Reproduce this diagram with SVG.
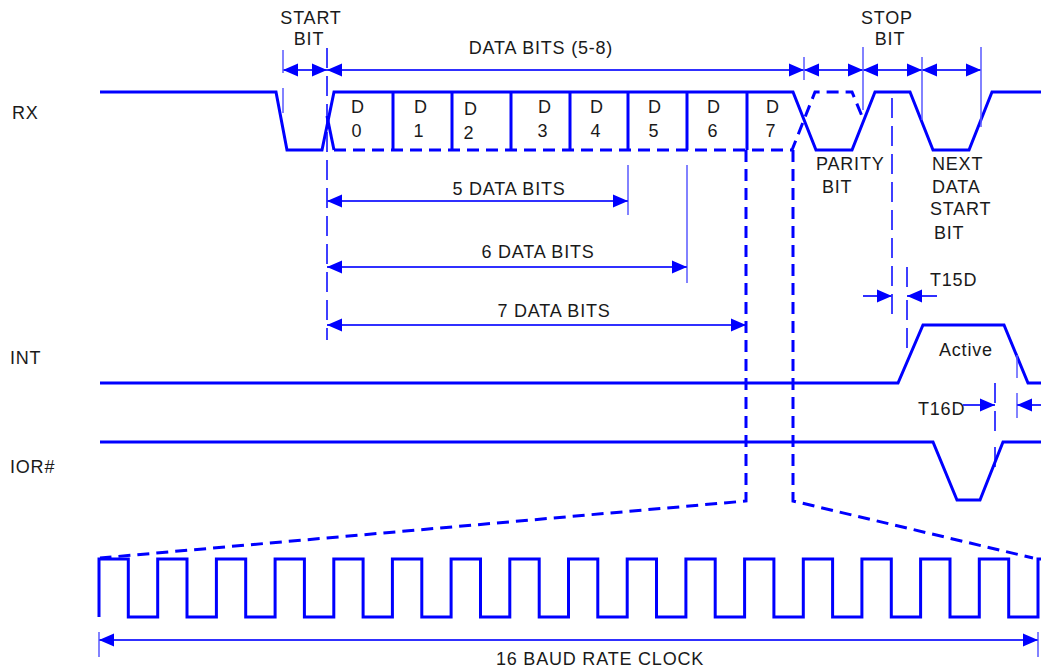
<svg xmlns="http://www.w3.org/2000/svg" xmlns:xlink="http://www.w3.org/1999/xlink" width="1041" height="669" viewBox="0 0 1041 669">
<style>
.t{font-family:"Liberation Sans",Arial,sans-serif;font-size:18px;letter-spacing:0.8px;fill:#1a1a1a}
.m{text-anchor:middle}
.w{fill:none;stroke:#0000ff;stroke-width:3;stroke-linejoin:miter}
.wd{fill:none;stroke:#0000ff;stroke-width:3;stroke-dasharray:12,7}
.dim{fill:none;stroke:#3030ff;stroke-width:2}
.tick{fill:none;stroke:#5a5aff;stroke-width:1.5}
.vd{fill:none;stroke:#0000ff;stroke-width:1.5;stroke-dasharray:20,8}
.ah{fill:#0000ff}
</style>
<defs>
<path id="ahR" class="ah" d="M0,0 L-15,-6.5 L-15,6.5 Z"/>
<path id="ahL" class="ah" d="M0,0 L15,-6.5 L15,6.5 Z"/>
</defs>
<rect width="1041" height="669" fill="#ffffff"/>

<g id="labels">
<text class="t" x="12" y="119">RX</text>
<text class="t" x="10" y="364">INT</text>
<text class="t" x="10" y="473">IOR#</text>
</g>

<g id="rx">
<path class="w" d="M100,92 H276 L287,150 H322 L334,92 H793 L816,150 H852 L875,92 H910 L933,150 H969 L992,92 H1041"/>
<path class="wd" d="M334,150 H792 L815,92 H852 L864,121"/>
<path class="w" stroke-width="2" d="M327,116 L334,150"/>
<path class="w" d="M393,92 V150 M452,92 V150 M511,92 V150 M570,92 V150 M628,92 V150 M687,92 V150 M747,92 V150"/>
<g class="t m">
<text x="358" y="113">D</text><text x="357" y="137">0</text>
<text x="421" y="113">D</text><text x="419" y="137">1</text>
<text x="471" y="115">D</text><text x="469" y="139">2</text>
<text x="545" y="113">D</text><text x="543" y="137">3</text>
<text x="597" y="113">D</text><text x="596" y="137">4</text>
<text x="655" y="113">D</text><text x="654" y="137">5</text>
<text x="714" y="113">D</text><text x="713" y="137">6</text>
<text x="773" y="113">D</text><text x="771" y="137">7</text>
</g>
</g>

<g id="int">
<path class="w" d="M100,383 H898 L923,325 H1004 L1028,383 H1041"/>
<text class="t" x="939" y="356">Active</text>
</g>

<g id="ior">
<path class="w" d="M100,442 H933 L957,500 H980 L1003,442 H1041"/>
</g>

<g id="clock">
<path class="w" d="M99,617 V559 H128.3 V617 H157.7 V559 H187 V617 H216.4 V559 H245.7 V617 H275.1 V559 H304.4 V617 H333.8 V559 H363.1 V617 H392.4 V559 H421.8 V617 H451.1 V559 H480.5 V617 H509.8 V559 H539.2 V617 H568.5 V559 H597.8 V617 H627.2 V559 H656.5 V617 H685.9 V559 H715.2 V617 H744.6 V559 H773.9 V617 H803.3 V559 H832.6 V617 H861.9 V559 H891.3 V617 H920.6 V559 H950 V617 H979.3 V559 H1008.7 V617 H1038 V559 H1041"/>
</g>

<g id="texts">
<text class="t m" x="311" y="24">START</text>
<text class="t m" x="309" y="45">BIT</text>
<text class="t m" x="541" y="54">DATA BITS (5-8)</text>
<text class="t m" x="887" y="24">STOP</text>
<text class="t m" x="890" y="45">BIT</text>
<text class="t" x="816" y="170">PARITY</text>
<text class="t" x="822" y="193">BIT</text>
<text class="t" x="932" y="170">NEXT</text>
<text class="t" x="932" y="193">DATA</text>
<text class="t" x="930" y="215">START</text>
<text class="t" x="934" y="239">BIT</text>
<text class="t m" x="509" y="195">5 DATA BITS</text>
<text class="t m" x="538" y="258">6 DATA BITS</text>
<text class="t m" x="554" y="317">7 DATA BITS</text>
<text class="t" x="930" y="286">T15D</text>
<text class="t" x="918" y="415">T16D</text>
<text class="t m" x="600" y="665">16 BAUD RATE CLOCK</text>
</g>

<g id="connectors">
<!-- top timing row -->
<path class="dim" d="M283,70 H981"/>
<use xlink:href="#ahL" x="283" y="70"/>
<use xlink:href="#ahR" x="327" y="70"/>
<use xlink:href="#ahL" x="327" y="70"/>
<use xlink:href="#ahR" x="804" y="70"/>
<use xlink:href="#ahL" x="804" y="70"/>
<use xlink:href="#ahR" x="863" y="70"/>
<use xlink:href="#ahL" x="863" y="70"/>
<use xlink:href="#ahR" x="922" y="70"/>
<use xlink:href="#ahL" x="922" y="70"/>
<use xlink:href="#ahR" x="981" y="70"/>
<path class="tick" d="M283,50 V73 M283,88 V113 M804,57 V80 M863,47 V110 M922,57 V120 M981,47 V127"/>
<!-- reference verticals -->
<path class="vd" d="M327,48 V340"/>
<path class="vd" d="M892,98 V318"/>
<path class="vd" d="M907,267 V290 M907,300 V355"/>
<path class="tick" d="M628,165 V215 M687,165 V283"/>
<path class="vd" d="M995,383 V432 M995,447 V472"/>
<path class="tick" d="M1017,355 V378 M1017,393 V418"/>
<!-- data bits dimension lines -->
<path class="dim" d="M327,201 H628 M327,267 H687 M327,325 H746"/>
<use xlink:href="#ahL" x="327" y="201"/>
<use xlink:href="#ahR" x="628" y="201"/>
<use xlink:href="#ahL" x="327" y="267"/>
<use xlink:href="#ahR" x="687" y="267"/>
<use xlink:href="#ahL" x="327" y="325"/>
<use xlink:href="#ahR" x="746" y="325"/>
<!-- T15D / T16D -->
<path class="dim" d="M863,296 H892 M907,296 H937"/>
<use xlink:href="#ahR" x="892" y="296"/>
<use xlink:href="#ahL" x="907" y="296"/>
<path class="dim" d="M963,405 H995 M1017,405 H1041"/>
<use xlink:href="#ahR" x="995" y="405"/>
<use xlink:href="#ahL" x="1017" y="405"/>
<!-- zoom lines to clock -->
<path class="wd" d="M746,150 V501 L100,558"/>
<path class="wd" d="M793,150 V501 L1033,558"/>
<!-- 16 baud -->
<path class="dim" d="M99,640 H1038"/>
<path class="tick" d="M99,632 V657 M1038,632 V657"/>
<use xlink:href="#ahL" x="99" y="640"/>
<use xlink:href="#ahR" x="1038" y="640"/>
</g>
</svg>
